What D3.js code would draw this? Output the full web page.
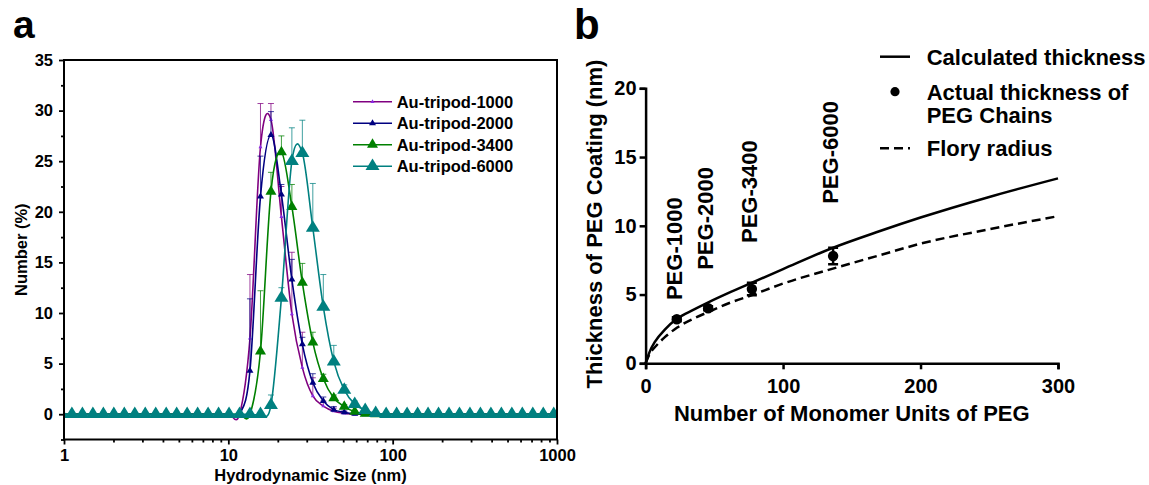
<!DOCTYPE html>
<html>
<head>
<meta charset="utf-8">
<script src="https://cdn.jsdelivr.net/npm/d3@7"></script>
<style>
  body { margin: 0; background: #fff; }
  text { font-family: "Liberation Sans", Arial, sans-serif; font-weight: bold; fill: #000; }
</style>
</head>
<body>
<svg id="fig" width="1149" height="485"></svg>
<script>
// ---------- Panel a: DLS number distributions ----------
const sizes = [0.9649, 1.117, 1.294, 1.499, 1.736, 2.010, 2.328, 2.696, 3.122, 3.615,
  4.187, 4.849, 5.615, 6.503, 7.531, 8.721, 10.10, 11.70, 13.54, 15.69,
  18.17, 21.04, 24.36, 28.21, 32.67, 37.84, 43.82, 50.75, 58.77, 68.06,
  78.82, 91.28, 105.7, 122.4, 141.8, 164.2, 190.1, 220.2, 255.0, 295.3,
  342.0, 396.1, 458.7, 531.2, 615.1, 712.4, 825.0, 955.4, 1106];

const number1000 = [0,0,0,0,0,0,0,0,0,0, 0,0,0,0,0,0,0,0,7.5,26.4,
  29.1,19.5,9.9,4.6,1.8,0.8,0.3,0.1,0,0, 0,0,0,0,0,0,0,0,0,0, 0,0,0,0,0,0,0,0,0];
const number2000 = [0,0,0,0,0,0,0,0,0,0, 0,0,0,0,0,0,0,0,4.3,21.5,
  27.6,21.7,13.3,6.9,3.1,1.3,0.45,0.2,0.05,0, 0,0,0,0,0,0,0,0,0,0, 0,0,0,0,0,0,0,0,0];
const number3400 = [0,0,0,0,0,0,0,0,0,0, 0,0,0,0,0,0,0,0,0,6.2,
  22.0,25.9,20.5,13.0,7.1,3.5,1.6,0.75,0.25,0.05, 0,0,0,0,0,0,0,0,0,0, 0,0,0,0,0,0,0,0,0];
const number6000 = [0,0,0,0,0,0,0,0,0,0, 0,0,0,0,0,0,0,0,0,0,
  0.9,11.5,25.0,25.8,18.4,10.6,5.2,2.4,1.0,0.4, 0.1,0,0,0,0,0,0,0,0,0, 0,0,0,0,0,0,0,0,0];

const err1000 = [0,0,0,0,0,0,0,0,0,0, 0,0,0,0,0,0,0,0,6.3,4.3,
  1.6,3.0,6.1,3.5,1.8,0.5,0.3,0.2,0,0, 0,0,0,0,0,0,0,0,0,0, 0,0,0,0,0,0,0,0,0];
const err2000 = [0,0,0,0,0,0,0,0,0,0, 0,0,0,0,0,0,0,0,7.1,4.0,
  2.3,1.0,2.0,0.7,0.9,0.4,0.3,0.1,0,0, 0,0,0,0,0,0,0,0,0,0, 0,0,0,0,0,0,0,0,0];
const err3400 = [0,0,0,0,0,0,0,0,0,0, 0,0,0,0,0,0,0,0,0,6.0,
  1.9,1.6,2.2,1.9,1.0,0.45,0.3,0.2,0.1,0, 0,0,0,0,0,0,0,0,0,0, 0,0,0,0,0,0,0,0,0];
const err6000 = [0,0,0,0,0,0,0,0,0,0, 0,0,0,0,0,0,0,0,0,0,
  1.0,1.0,3.3,3.25,4.4,3.2,1.6,0.5,0.3,0.1, 0,0,0,0,0,0,0,0,0,0, 0,0,0,0,0,0,0,0,0];

const seriesNames = ["Au-tripod-1000", "Au-tripod-2000", "Au-tripod-3400", "Au-tripod-6000"];
const yTicksA = [0, 5, 10, 15, 20, 25, 30, 35];
const xTicksA = [1, 10, 100, 1000];

// ---------- Panel b: PEG coating thickness ----------
const calcN = [0, 3, 7, 14, 23, 35, 46, 60, 77, 100, 135, 170, 200, 250, 300];
const calcT = [0, 0.85, 1.6, 2.45, 3.25, 3.9, 4.45, 5.1, 5.85, 6.85, 8.35, 9.6, 10.6, 12.1, 13.45];
const floryN = [0, 3, 7, 14, 23, 35, 46, 60, 77, 100, 135, 170, 200, 250, 300];
const floryR = [0, 0.7, 1.2, 1.9, 2.6, 3.25, 3.75, 4.35, 4.95, 5.8, 6.85, 7.85, 8.7, 9.75, 10.7];
const pegNames = ["PEG-1000", "PEG-2000", "PEG-3400", "PEG-6000"];
const pegN = [22.7, 45.5, 77.3, 136.4];
const pegT = [3.2, 4.0, 5.4, 7.8];
const pegErr = [0.15, 0.15, 0.45, 0.6];
const pegLabelT = [4.6, 6.8, 8.75, 11.6];
const yTicksB = [0, 5, 10, 15, 20];
const xTicksB = [0, 100, 200, 300];

const svg = d3.select("#fig");

// ================= Panel a =================
const FA = 16.5;            // panel a font size
const A = { left: 64, right: 557, top: 60, bottom: 439.5 };
const xA = d3.scaleLog().domain([1, 1000]).range([A.left, A.right]);
const yA = d3.scaleLinear().domain([-2.5, 35]).range([A.bottom, A.top]);

const gA = svg.append("g");

svg.append("defs").append("clipPath").attr("id", "clipA")
  .append("rect").attr("x", A.left).attr("y", A.top)
  .attr("width", A.right - A.left).attr("height", A.bottom - A.top);

const styles = [
  { line: "#800080", mark: "#8a2be2", w: 4,  h: 3.6 },
  { line: "#000080", mark: "#000080", w: 7,  h: 6 },
  { line: "#008000", mark: "#008000", w: 11, h: 9.5 },
  { line: "#008080", mark: "#008080", w: 14, h: 11.5 }
];
const seriesA = [
  { name: seriesNames[0], values: number1000, errs: err1000, st: styles[0] },
  { name: seriesNames[1], values: number2000, errs: err2000, st: styles[1] },
  { name: seriesNames[2], values: number3400, errs: err3400, st: styles[2] },
  { name: seriesNames[3], values: number6000, errs: err6000, st: styles[3] }
];

function tri(w, h) {
  return `M0,${-h * 2 / 3}L${w / 2},${h / 3}L${-w / 2},${h / 3}Z`;
}

const lineA = d3.line().x(d => xA(d[0])).y(d => yA(d[1])).curve(d3.curveCatmullRom.alpha(0));
const plotA = gA.append("g").attr("clip-path", "url(#clipA)");

seriesA.forEach(s => {
  const pts = sizes.map((x, i) => [x, s.values[i], s.errs[i]]);
  const g = plotA.append("g");
  // upper error bars
  const eb = pts.filter(p => p[2] > 0);
  g.selectAll("path.err").data(eb).join("path")
    .attr("d", p => {
      const x = xA(p[0]), y0 = yA(p[1]), y1 = yA(p[1] + p[2]);
      return `M${x},${y0}V${y1}M${x - 3},${y1}H${x + 3}`;
    })
    .attr("stroke", s.st.line).attr("stroke-width", 1).attr("fill", "none").attr("opacity", 0.75);
  g.append("path").attr("d", lineA(pts))
    .attr("fill", "none").attr("stroke", s.st.line).attr("stroke-width", 1.6);
  g.selectAll("path.m").data(pts).join("path")
    .attr("transform", p => `translate(${xA(p[0])},${yA(p[1])})`)
    .attr("d", tri(s.st.w, s.st.h)).attr("fill", s.st.mark);
});

// frame
gA.append("rect").attr("x", A.left).attr("y", A.top)
  .attr("width", A.right - A.left).attr("height", A.bottom - A.top)
  .attr("fill", "none").attr("stroke", "#000").attr("stroke-width", 2);

// y axis (major + minor)
const yAxA = gA.append("g").attr("transform", `translate(${A.left},0)`)
  .call(d3.axisLeft(yA).tickValues(yTicksA).tickSize(5).tickPadding(6));
yAxA.append("g").call(d3.axisLeft(yA).tickValues(d3.range(-2.5, 35, 5)).tickSize(3).tickFormat(""));
// x axis (major + minor)
const minorX = [];
[1, 10, 100].forEach(d => { for (let k = 2; k <= 9; k++) minorX.push(d * k); });
const xAxA = gA.append("g").attr("transform", `translate(0,${A.bottom})`)
  .call(d3.axisBottom(xA).tickValues(xTicksA).tickSize(5).tickPadding(4.5).tickFormat(d3.format("d")));
xAxA.append("g").call(d3.axisBottom(xA).tickValues(minorX).tickSize(3).tickFormat(""));

gA.selectAll(".domain").remove();
gA.selectAll(".tick line").attr("stroke", "#000").attr("stroke-width", 1.8);
gA.selectAll(".tick text").attr("font-size", FA).attr("font-family", null);

// axis titles
gA.append("text").attr("x", 310.5).attr("y", 481)
  .attr("text-anchor", "middle").attr("font-size", FA).text("Hydrodynamic Size (nm)");
gA.append("text").attr("transform", "translate(21,249.7) rotate(-90)")
  .attr("text-anchor", "middle").attr("dy", "0.36em").attr("font-size", FA).text("Number (%)");

// legend
const legA = gA.append("g");
seriesA.forEach((s, i) => {
  const y = 101.7 + i * 21.5;
  legA.append("line").attr("x1", 353).attr("x2", 392).attr("y1", y).attr("y2", y)
    .attr("stroke", s.st.line).attr("stroke-width", 1.6);
  legA.append("path").attr("transform", `translate(372.5,${y})`)
    .attr("d", tri(s.st.w, s.st.h)).attr("fill", s.st.mark);
  legA.append("text").attr("x", 396.7).attr("y", y)
    .attr("dy", "0.36em").attr("font-size", FA).text(s.name);
});

svg.append("text").attr("x", 13).attr("y", 38).attr("font-size", 39).text("a");

// ================= Panel b =================
const B = { left: 645.6, right: 1058, top: 88.3, bottom: 363.3 };
const xB = d3.scaleLinear().domain([0, 300]).range([B.left, B.right]);
const yB = d3.scaleLinear().domain([0, 20]).range([B.bottom, B.top]);
const gB = svg.append("g");

const lineB = d3.line().x(d => xB(d[0])).y(d => yB(d[1])).curve(d3.curveMonotoneX);
gB.append("path").attr("d", lineB(calcN.map((n, i) => [n, calcT[i]])))
  .attr("fill", "none").attr("stroke", "#000").attr("stroke-width", 2.5);
gB.append("path").attr("d", lineB(floryN.map((n, i) => [n, floryR[i]])))
  .attr("fill", "none").attr("stroke", "#000").attr("stroke-width", 2.5)
  .attr("stroke-dasharray", "9,5");

// measured points with error bars
pegN.forEach((n, i) => {
  const x = xB(n), y0 = yB(pegT[i] - pegErr[i]), y1 = yB(pegT[i] + pegErr[i]);
  gB.append("path").attr("d", `M${x},${y0}V${y1}M${x - 5},${y0}H${x + 5}M${x - 5},${y1}H${x + 5}`)
    .attr("stroke", "#000").attr("stroke-width", 2.5).attr("fill", "none");
  gB.append("circle").attr("cx", x).attr("cy", yB(pegT[i])).attr("r", 5.2).attr("fill", "#000");
  gB.append("text")
    .attr("transform", `translate(${x - 3},${yB(pegLabelT[i])}) rotate(-90)`)
    .attr("dy", "0.36em").attr("font-size", 22).text(pegNames[i]);
});

// axes
gB.append("g").attr("transform", `translate(${B.left},0)`)
  .call(d3.axisLeft(yB).tickValues(yTicksB).tickSize(6).tickPadding(3));
gB.append("g").attr("transform", `translate(0,${B.bottom})`)
  .call(d3.axisBottom(xB).tickValues(xTicksB).tickSize(6).tickPadding(10));
gB.selectAll(".domain").attr("stroke", "#000").attr("stroke-width", 2.5);
gB.selectAll(".tick line").attr("stroke", "#000").attr("stroke-width", 2.5);
gB.selectAll(".tick text").attr("font-size", 20).attr("font-family", null);

gB.append("text").attr("x", 851.8).attr("y", 421).attr("text-anchor", "middle")
  .attr("font-size", 22).text("Number of Monomer Units of PEG");
gB.append("text").attr("transform", "translate(594,224) rotate(-90)")
  .attr("text-anchor", "middle").attr("dy", "0.36em").attr("font-size", 22)
  .text("Thickness of PEG Coating (nm)");

// legend
const legB = gB.append("g");
legB.append("line").attr("x1", 880).attr("x2", 910).attr("y1", 56.7).attr("y2", 56.7)
  .attr("stroke", "#000").attr("stroke-width", 2.5);
legB.append("text").attr("x", 926.7).attr("y", 65).attr("font-size", 22).text("Calculated thickness");
legB.append("circle").attr("cx", 895).attr("cy", 91.7).attr("r", 4.6).attr("fill", "#000");
legB.append("text").attr("x", 926.7).attr("y", 100).attr("font-size", 22).text("Actual thickness of");
legB.append("text").attr("x", 926.7).attr("y", 123.3).attr("font-size", 22).text("PEG Chains");
legB.append("line").attr("x1", 880).attr("x2", 910).attr("y1", 148.3).attr("y2", 148.3)
  .attr("stroke", "#000").attr("stroke-width", 2.5).attr("stroke-dasharray", "9,5");
legB.append("text").attr("x", 926.7).attr("y", 156).attr("font-size", 22).text("Flory radius");

svg.append("text").attr("x", 574).attr("y", 38.5).attr("font-size", 42).text("b");
</script>
</body>
</html>
